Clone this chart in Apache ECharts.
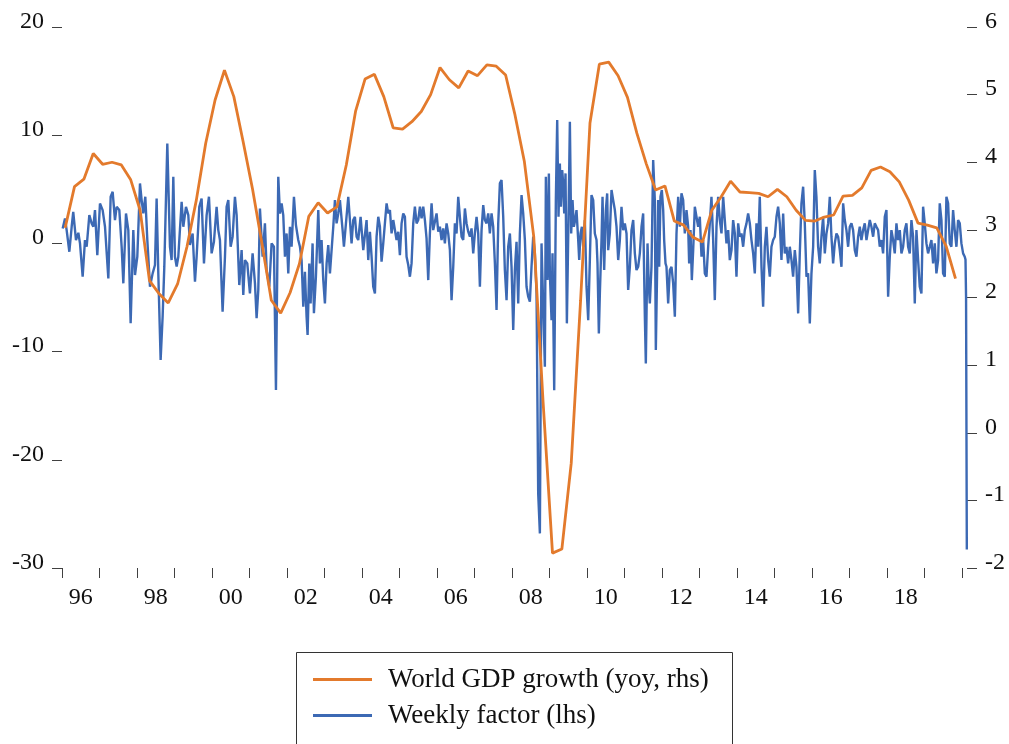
<!DOCTYPE html>
<html>
<head>
<meta charset="utf-8">
<script src="https://cdn.jsdelivr.net/npm/echarts@6/dist/echarts.min.js"></script>
<style>
html,body{margin:0;padding:0;background:#fff;}
#chart{width:1009px;height:744px;}
</style>
</head>
<body>
<div id="chart"></div>
<script>
// Tick labels for the year axis (two-digit years, one band per year)
var yearLabels = ['96','97','98','99','00','01','02','03','04','05','06','07','08','09','10','11','12','13','14','15','16','17','18','19'];

// Series names
var gdpName = 'World GDP growth (yoy, rhs)';
var weeklyName = 'Weekly factor (lhs)';

// World GDP growth, yoy %, quarterly from 1996Q1 to 2019Q4 (rhs)
var gdpGrowth = [
  3.03, 3.64, 3.75, 4.13, 3.97, 4.00, 3.96, 3.74, 3.29, 2.25,
  2.06, 1.92, 2.20, 2.75, 3.44, 4.28, 4.92, 5.36, 4.97, 4.30,
  3.60, 2.80, 1.96, 1.77, 2.07, 2.50, 3.20, 3.40, 3.25, 3.34,
  3.96, 4.76, 5.23, 5.30, 4.97, 4.51, 4.49, 4.60, 4.75, 5.00,
  5.40, 5.22, 5.10, 5.35, 5.28, 5.44, 5.42, 5.29, 4.70, 4.01,
  2.90, 0.45, -1.78, -1.72, -0.45, 1.96, 4.58, 5.45, 5.48, 5.28,
  4.96, 4.43, 3.98, 3.59, 3.65, 3.13, 3.07, 2.89, 2.82, 3.29,
  3.49, 3.72, 3.56, 3.55, 3.54, 3.49, 3.60, 3.49, 3.29, 3.14,
  3.13, 3.19, 3.22, 3.50, 3.51, 3.62, 3.88, 3.93, 3.86, 3.71,
  3.44, 3.10, 3.07, 3.03, 2.76, 2.28
];
var gdpStartYear = 1996;

// Weekly factor (lhs): [decimal year, value]
var weeklyFactor = [
[1996.018,1.38],[1996.08,2.31],[1996.124,1.23],[1996.196,-0.77],[1996.258,1.54],[1996.30,2.92],[1996.373,0.31],[1996.436,0.98],[1996.48,0],[1996.551,-3.08],
[1996.613,0.31],[1996.658,-0.31],[1996.729,2.62],[1996.791,1.85],[1996.836,1.54],[1996.88,3.08],[1996.942,-1.08],[1997.013,3.69],[1997.084,3.08],[1997.147,1.54],
[1997.236,-3.23],[1997.298,4.31],[1997.351,4.77],[1997.413,2.15],[1997.458,3.38],[1997.529,3.08],[1997.591,-0.31],[1997.636,-3.69],[1997.707,2.77],[1997.769,1.23],
[1997.831,-7.38],[1997.902,1.23],[1997.947,-2.92],[1998.009,-1.23],[1998.08,5.54],[1998.124,4.0],[1998.169,2.77],[1998.222,4.31],[1998.276,0.31],[1998.347,-4.0],
[1998.418,-2.77],[1998.48,-2.0],[1998.524,4.15],[1998.569,-2.77],[1998.631,-10.77],[1998.684,-6.77],[1998.729,-2.15],[1998.809,9.23],[1998.88,-0.31],[1998.924,-1.54],
[1998.969,6.15],[1999.013,-1.23],[1999.058,-2.15],[1999.102,-1.23],[1999.191,3.85],[1999.236,1.54],[1999.307,3.38],[1999.369,2.62],[1999.413,-0.15],[1999.484,0.92],
[1999.547,-3.54],[1999.591,-1.23],[1999.662,3.38],[1999.724,4.15],[1999.787,-1.85],[1999.858,2.62],[1999.92,4.31],[1999.991,-0.92],[2000.053,0.15],[2000.124,3.38],
[2000.169,1.23],[2000.213,0.31],[2000.284,-6.31],[2000.347,-1.23],[2000.391,3.38],[2000.436,4.0],[2000.498,-0.31],[2000.551,0.62],[2000.613,4.31],[2000.658,2.62],
[2000.729,-3.85],[2000.791,-0.62],[2000.836,-4.77],[2000.88,-1.54],[2000.942,-1.85],[2001.013,-4.62],[2001.084,-0.92],[2001.147,-3.69],[2001.191,-6.92],[2001.236,-4.31],
[2001.28,3.23],[2001.351,-1.23],[2001.413,1.85],[2001.458,-2.46],[2001.529,-4.0],[2001.591,0],[2001.653,-0.31],[2001.707,-13.54],[2001.769,6.15],[2001.813,2.77],
[2001.858,3.69],[2001.902,2.62],[2001.947,-1.23],[2001.991,0.92],[2002.036,-2.77],[2002.08,1.54],[2002.124,-0.31],[2002.187,4.31],[2002.24,1.69],[2002.302,0.31],
[2002.347,-0.31],[2002.391,-1.54],[2002.436,-5.85],[2002.48,-2.62],[2002.524,-6.77],[2002.551,-8.46],[2002.596,-1.85],[2002.631,-5.54],[2002.684,0],[2002.72,-6.46],
[2002.773,-3.08],[2002.836,3.08],[2002.88,-1.85],[2002.924,0.31],[2002.969,-3.38],[2003.013,-5.54],[2003.058,-1.85],[2003.102,-0.15],[2003.147,-2.77],[2003.191,-0.62],
[2003.236,1.54],[2003.28,4.0],[2003.324,1.85],[2003.369,2.77],[2003.413,4.0],[2003.485,1.23],[2003.52,-0.31],[2003.574,1.85],[2003.636,4.31],[2003.68,2.16],
[2003.724,0],[2003.769,2.16],[2003.813,2.46],[2003.858,0.62],[2003.902,0.31],[2003.965,2.46],[2004.009,2.62],[2004.036,-0.62],[2004.08,-0.62],[2004.124,2.16],
[2004.169,-1.54],[2004.213,1.08],[2004.258,-1.23],[2004.302,-4.0],[2004.347,-4.62],[2004.391,0.62],[2004.436,2.46],[2004.48,1.54],[2004.524,-1.69],[2004.569,0],
[2004.613,1.85],[2004.658,3.7],[2004.702,2.77],[2004.747,3.08],[2004.791,0.92],[2004.836,2.16],[2004.88,2.31],[2004.924,0.31],[2004.969,1.08],[2005.013,-1.08],
[2005.058,1.85],[2005.102,2.77],[2005.147,2.46],[2005.191,-1.23],[2005.236,-2.0],[2005.28,-3.08],[2005.324,-1.85],[2005.369,1.85],[2005.413,3.39],[2005.458,1.85],
[2005.502,2.16],[2005.547,3.39],[2005.591,2.31],[2005.636,3.39],[2005.68,2.16],[2005.724,0.46],[2005.769,-3.39],[2005.813,0.92],[2005.858,3.7],[2005.902,1.23],
[2005.947,1.23],[2005.991,2.77],[2006.036,1.08],[2006.08,1.54],[2006.124,0.31],[2006.169,1.39],[2006.213,0],[2006.258,1.85],[2006.302,0.92],[2006.347,-0.62],
[2006.391,-5.24],[2006.436,-2.16],[2006.48,1.85],[2006.524,0.92],[2006.569,4.31],[2006.613,2.46],[2006.658,0.62],[2006.702,0.31],[2006.747,3.23],[2006.791,1.85],
[2006.836,1.08],[2006.88,0.62],[2006.924,1.39],[2006.969,-0.92],[2007.013,0.92],[2007.058,2.46],[2007.102,0.92],[2007.147,-4.0],[2007.191,1.23],[2007.236,3.54],
[2007.28,2.16],[2007.324,1.85],[2007.369,2.77],[2007.413,0.92],[2007.458,2.77],[2007.502,1.54],[2007.547,-1.85],[2007.591,-6.16],[2007.636,1.85],[2007.68,5.55],
[2007.724,5.85],[2007.769,2.46],[2007.813,-2.46],[2007.858,-5.24],[2007.902,-0.31],[2007.947,0.92],[2007.991,-2.16],[2008.036,-8.01],[2008.08,-2.46],[2008.124,0.15],
[2008.169,-5.55],[2008.213,0.92],[2008.258,4.47],[2008.302,2.77],[2008.347,0.31],[2008.391,-4.0],[2008.436,-4.93],[2008.48,-5.39],[2008.524,-2.16],[2008.569,0.62],
[2008.613,-0.92],[2008.658,-4.62],[2008.702,-23.1],[2008.747,-26.8],[2008.791,0],[2008.836,-5.85],[2008.88,-11.4],[2008.907,6.16],[2008.951,-3.39],[2008.987,6.47],
[2009.013,-2.77],[2009.058,-7.09],[2009.084,-0.92],[2009.129,-13.56],[2009.173,4.0],[2009.209,11.4],[2009.244,2.46],[2009.28,7.39],[2009.307,3.39],[2009.342,6.78],
[2009.369,5.55],[2009.396,2.77],[2009.431,6.47],[2009.467,-7.39],[2009.511,2.46],[2009.547,11.24],[2009.582,0.92],[2009.618,4.0],[2009.653,1.54],[2009.689,2.16],
[2009.724,3.08],[2009.769,0.31],[2009.796,-1.54],[2009.831,0.92],[2009.867,1.54],[2009.902,-0.31],[2009.947,2.16],[2009.991,-4.0],[2010.036,-7.09],[2010.08,-1.54],
[2010.124,4.47],[2010.169,4.0],[2010.213,0.92],[2010.258,0.31],[2010.284,-1.85],[2010.32,-8.32],[2010.347,-4.62],[2010.391,0.31],[2010.418,4.31],[2010.462,-2.46],
[2010.507,3.08],[2010.542,4.62],[2010.569,-0.62],[2010.613,0.92],[2010.658,4.93],[2010.702,4.0],[2010.747,3.08],[2010.791,1.54],[2010.836,-1.54],[2010.88,0.31],
[2010.924,3.39],[2010.969,1.23],[2011.013,1.85],[2011.058,0.92],[2011.102,-4.31],[2011.147,-2.16],[2011.191,1.23],[2011.236,2.16],[2011.28,-0.92],[2011.324,-2.46],
[2011.369,-2.16],[2011.413,-0.92],[2011.458,1.54],[2011.502,2.77],[2011.547,-6.78],[2011.573,-11.09],[2011.618,0],[2011.653,-4.0],[2011.68,-5.55],[2011.724,-2.16],
[2011.769,7.7],[2011.813,4.0],[2011.84,-9.86],[2011.876,-2.16],[2011.902,4.0],[2011.929,-2.16],[2011.964,4.31],[2012.0,4.93],[2012.036,3.08],[2012.062,0.31],
[2012.098,-1.85],[2012.124,-2.16],[2012.169,-5.55],[2012.213,-2.46],[2012.258,-2.16],[2012.302,-3.7],[2012.347,-6.78],[2012.391,0.92],[2012.436,4.31],[2012.48,1.54],
[2012.524,4.62],[2012.569,4.0],[2012.613,0.92],[2012.658,3.08],[2012.702,1.54],[2012.729,-1.85],[2012.764,1.23],[2012.8,-3.39],[2012.836,-0.62],[2012.88,3.39],
[2012.924,2.46],[2012.969,1.54],[2013.013,2.46],[2013.058,-1.23],[2013.102,0.31],[2013.147,-2.77],[2013.191,-3.08],[2013.236,-0.31],[2013.28,1.85],[2013.324,4.31],
[2013.369,0.31],[2013.413,-5.24],[2013.458,1.54],[2013.502,4.31],[2013.547,2.16],[2013.591,0.92],[2013.636,4.31],[2013.68,2.16],[2013.724,0],[2013.769,1.23],
[2013.813,-1.54],[2013.858,-0.62],[2013.902,2.16],[2013.947,0.92],[2013.991,-3.08],[2014.036,1.85],[2014.08,0.62],[2014.124,0.92],[2014.169,-0.31],[2014.213,1.23],
[2014.258,1.85],[2014.302,2.77],[2014.347,1.85],[2014.391,0.31],[2014.436,-0.92],[2014.48,-2.77],[2014.524,1.85],[2014.569,-0.31],[2014.613,4.31],[2014.658,-2.16],
[2014.702,-5.85],[2014.747,-0.31],[2014.791,1.54],[2014.836,-1.54],[2014.88,-3.08],[2014.924,-0.31],[2014.969,0.31],[2015.013,0.62],[2015.058,2.46],[2015.102,3.39],
[2015.147,1.85],[2015.191,-1.54],[2015.236,2.77],[2015.28,-0.92],[2015.324,-0.31],[2015.369,-1.85],[2015.413,-0.31],[2015.458,-1.54],[2015.502,-3.08],[2015.547,-0.62],
[2015.591,-2.16],[2015.636,-6.47],[2015.68,-0.92],[2015.724,3.7],[2015.769,5.24],[2015.813,1.85],[2015.858,-3.08],[2015.902,-2.77],[2015.947,-7.39],[2015.991,-2.77],
[2016.036,-0.31],[2016.08,6.78],[2016.124,4.31],[2016.169,-0.31],[2016.213,-1.85],[2016.258,0.62],[2016.302,2.46],[2016.347,-0.92],[2016.391,0.92],[2016.436,1.85],
[2016.48,4.31],[2016.524,0.62],[2016.569,-1.85],[2016.613,0],[2016.658,0.92],[2016.702,0.62],[2016.747,-0.62],[2016.791,-2.16],[2016.836,3.7],[2016.88,2.16],
[2016.924,1.23],[2016.969,-0.31],[2017.013,1.54],[2017.058,1.85],[2017.102,1.23],[2017.147,-0.62],[2017.191,-1.23],[2017.236,0.62],[2017.28,1.54],[2017.324,0.31],
[2017.369,1.23],[2017.413,1.85],[2017.458,0.31],[2017.502,1.23],[2017.547,2.16],[2017.591,1.54],[2017.636,0.62],[2017.68,1.85],[2017.724,1.54],[2017.769,1.23],
[2017.813,-0.31],[2017.858,0.31],[2017.902,-0.92],[2017.947,2.46],[2017.991,3.08],[2018.036,-4.93],[2018.08,-1.23],[2018.124,1.23],[2018.169,0.31],[2018.213,-0.92],
[2018.258,1.85],[2018.302,0.31],[2018.347,1.23],[2018.391,-0.92],[2018.436,-0.31],[2018.48,1.23],[2018.524,1.85],[2018.569,-0.31],[2018.613,-0.92],[2018.658,2.16],
[2018.702,0.62],[2018.747,-5.55],[2018.791,1.23],[2018.836,-1.54],[2018.88,-4.0],[2018.924,-4.62],[2018.969,3.39],[2019.013,1.85],[2019.058,0],[2019.102,-0.92],
[2019.147,-0.31],[2019.191,0.31],[2019.236,-1.85],[2019.28,0],[2019.324,-2.77],[2019.369,-1.54],[2019.413,3.7],[2019.458,2.16],[2019.502,-2.77],[2019.547,-3.08],
[2019.591,4.31],[2019.636,3.7],[2019.68,0],[2019.724,-0.31],[2019.769,3.08],[2019.813,1.23],[2019.858,-0.31],[2019.902,2.16],[2019.947,1.85],[2019.991,0],
[2020.036,-0.92],[2020.08,-1.23],[2020.10,-1.5],[2020.115,-5.0],[2020.135,-28.3]
];

var orange = '#E37A2C';
var blue = '#3C69B4';
var axisColor = '#404040';
var fontFam = '"Liberation Serif", "Times New Roman", serif';

var gdpSeries = gdpGrowth.map(function (v, k) {
  return [gdpStartYear + 1 / 12 + k * 0.25, v];
});

var chart = echarts.init(document.getElementById('chart'), null, {renderer: 'canvas'});

var tickLabelStyle = {
  fontFamily: fontFam,
  fontSize: 24,
  color: '#111'
};

chart.setOption({
  animation: false,
  backgroundColor: '#fff',
  grid: [
    {left: 62, right: 47, top: 27, bottom: 176, containLabel: false},
    {left: 62, right: 42, top: 27, bottom: 176, containLabel: false}
  ],
  xAxis: [
    {
      type: 'category',
      gridIndex: 0,
      data: yearLabels,
      boundaryGap: true,
      axisLine: {show: false},
      axisTick: {show: true, interval: 0, length: 10, lineStyle: {color: axisColor, width: 1}},
      axisLabel: Object.assign({interval: 1, margin: 18}, tickLabelStyle),
      splitLine: {show: false}
    },
    {
      type: 'value',
      gridIndex: 1,
      min: 1996,
      max: 2020.14,
      show: false
    }
  ],
  yAxis: [
    {type: 'value', gridIndex: 0, show: false, min: 0, max: 1},
    {
      type: 'value',
      gridIndex: 1,
      position: 'left',
      min: -30,
      max: 20,
      interval: 10,
      axisLine: {show: false},
      axisTick: {show: true, length: 10, lineStyle: {color: axisColor, width: 1}},
      axisLabel: Object.assign({margin: 18, verticalAlign: 'bottom', lineHeight: 11}, tickLabelStyle),
      splitLine: {show: false}
    },
    {
      type: 'value',
      gridIndex: 1,
      position: 'right',
      min: -2,
      max: 6,
      interval: 1,
      axisLine: {show: false},
      axisTick: {show: true, length: 10, lineStyle: {color: axisColor, width: 1}},
      axisLabel: Object.assign({margin: 18, verticalAlign: 'bottom', lineHeight: 11}, tickLabelStyle),
      splitLine: {show: false}
    }
  ],
  legend: {
    orient: 'vertical',
    left: 313,
    top: 666,
    padding: 0,
    itemGap: 9,
    itemWidth: 59,
    itemHeight: 3,
    icon: 'rect',
    data: [gdpName, weeklyName],
    textStyle: {
      fontFamily: fontFam,
      fontSize: 27,
      color: '#111',
      lineHeight: 27,
      padding: [0, 0, 0, 11]
    }
  },
  graphic: [
    {
      type: 'rect',
      z: -1,
      shape: {x: 296.5, y: 652.5, width: 436, height: 140},
      style: {fill: 'none', stroke: '#333', lineWidth: 1}
    }
  ],
  series: [
    {
      name: weeklyName,
      type: 'line',
      xAxisIndex: 1,
      yAxisIndex: 1,
      data: weeklyFactor,
      showSymbol: false,
      symbol: 'none',
      lineStyle: {color: blue, width: 2.4},
      itemStyle: {color: blue},
      z: 2
    },
    {
      name: gdpName,
      type: 'line',
      xAxisIndex: 1,
      yAxisIndex: 2,
      data: gdpSeries,
      showSymbol: false,
      symbol: 'none',
      lineStyle: {color: orange, width: 2.8},
      itemStyle: {color: orange},
      z: 3
    }
  ]
});
</script>
</body>
</html>
